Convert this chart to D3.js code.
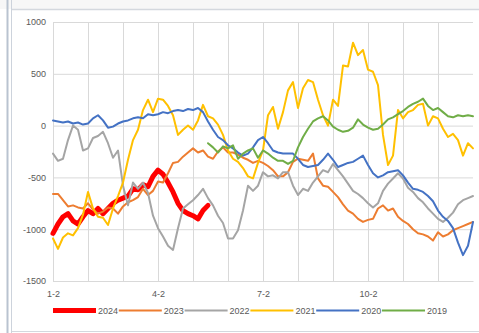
<!DOCTYPE html>
<html><head><meta charset="utf-8">
<script src="https://cdn.jsdelivr.net/npm/d3@7"></script>
<style>
html,body{margin:0;padding:0;background:#fff;}
svg{display:block;font-family:"Liberation Sans",Arial,sans-serif;}
</style></head>
<body><svg id="c" width="479" height="333"></svg>
<script>
// ---- data ----
const months = ["1-2","2-2","3-2","4-2","5-2","6-2","7-2","8-2","9-2","10-2","11-2","12-2"];
const tickLabelMonths = ["1-2","4-2","7-2","10-2"];
const yTicks = [1000,500,0,-500,-1000,-1500];
const seriesNames = ["2024","2023","2022","2021","2020","2019"];
const seriesColors = ["#FF0000","#ED7D31","#A5A5A5","#FFC000","#4472C4","#70AD47"];
const samplesPerMonth = 7;

const s2024 = [-1040,-950,-880,-850,-920,-950,-880,-820,-850,-800,-850,-800,-750,-720,-700,-680,-610,-620,-570,-590,-490,-430,-470,-550,-640,-750,-820,-850,-870,-900,-820,-770];
const s2023 = [-660,-660,-720,-780,-770,-790,-800,-750,-810,-850,-830,-790,-800,-850,-780,-740,-720,-690,-610,-670,-630,-540,-550,-460,-360,-350,-300,-260,-220,-260,-240,-300,-320,-250,-210,-260,-260,-280,-310,-330,-360,-340,-360,-390,-430,-490,-490,-450,-350,-320,-330,-340,-270,-510,-580,-590,-640,-690,-760,-820,-850,-900,-930,-910,-900,-800,-770,-820,-800,-880,-920,-950,-1000,-1040,-1050,-1070,-1110,-1030,-1070,-1050,-1010,-990,-970,-950,-930];
const s2022 = [-270,-340,-320,-140,0,-40,-240,-220,-120,-100,-60,-170,-310,-240,-580,-770,-550,-610,-550,-650,-870,-990,-1070,-1160,-1200,-990,-800,-760,-720,-670,-610,-700,-770,-870,-940,-1090,-1090,-1010,-820,-580,-630,-580,-450,-490,-480,-510,-450,-450,-580,-670,-610,-630,-550,-490,-430,-450,-370,-430,-490,-560,-630,-660,-700,-750,-790,-750,-630,-560,-510,-460,-510,-600,-640,-700,-740,-800,-850,-900,-930,-890,-840,-760,-720,-700,-680];
const s2021 = [-1090,-1190,-1080,-1040,-1060,-990,-860,-640,-800,-880,-890,-960,-800,-680,-550,-330,-140,-40,150,250,130,260,250,190,100,-90,-40,0,-40,50,200,90,70,10,-90,-240,-320,-350,-410,-490,-510,-360,-240,100,180,-30,130,340,420,170,360,440,420,250,100,0,250,190,580,570,800,680,730,540,520,390,-90,-380,-290,150,70,130,150,200,210,0,90,70,-30,-110,-80,-140,-290,-170,-220];
const s2020 = [50,40,30,40,20,30,10,20,70,100,50,-20,-10,20,40,50,70,80,70,110,100,110,130,120,140,150,140,160,150,170,130,40,-40,-110,-140,-190,-220,-260,-290,-270,-210,-140,-110,-170,-240,-260,-270,-270,-270,-320,-380,-400,-390,-380,-330,-270,-330,-400,-380,-360,-350,-320,-290,-380,-460,-500,-480,-450,-440,-430,-480,-550,-610,-620,-640,-680,-730,-820,-880,-920,-990,-1130,-1250,-1160,-930];
const s2019 = [null,null,null,null,null,null,null,null,null,null,null,null,null,null,null,null,null,null,null,null,null,null,null,null,null,null,null,null,null,null,null,
  -170,-210,-260,-200,-220,-190,-320,-270,-240,-220,-310,-240,-270,-310,-340,-340,-370,-340,-210,-110,-30,40,70,90,50,-10,-40,-60,-50,-20,60,10,-20,-40,-30,10,60,80,110,140,180,210,230,260,190,150,170,130,90,80,100,90,100,90];
const seriesData = [s2024,s2023,s2022,s2021,s2020,s2019];

// ---- chart ----
const svg = d3.select("#c");
const W = 479, H = 333;
const L = 53, R = 473, T = 22, B = 281;

// window frame
svg.append("rect").attr("x",0).attr("y",0).attr("width",W).attr("height",9).attr("fill","#f7f7f7");
svg.append("line").attr("x1",12).attr("x2",W).attr("y1",9.5).attr("y2",9.5).attr("stroke","#d4d8de").attr("stroke-width",1.5);
svg.append("line").attr("x1",7.5).attr("x2",7.5).attr("y1",0).attr("y2",H).attr("stroke","#b9c3d0").attr("stroke-width",2);
svg.append("line").attr("x1",11.5).attr("x2",11.5).attr("y1",0).attr("y2",H).attr("stroke","#cdd3dc").attr("stroke-width",1);
svg.append("line").attr("x1",12).attr("x2",W).attr("y1",331.5).attr("y2",331.5).attr("stroke","#d4d8de").attr("stroke-width",1);

const x = d3.scaleLinear().domain([0,12]).range([L,R]);
const y = d3.scaleLinear().domain([-1500,1000]).range([B,T]);

// y axis + horizontal gridlines
const gy = svg.append("g").attr("transform",`translate(${L},0)`)
  .call(d3.axisLeft(y).tickValues(yTicks).tickSizeInner(-(R-L)).tickSizeOuter(0).tickPadding(7)
    .tickFormat(d => String(d)));
gy.select(".domain").remove();
gy.selectAll("line").attr("stroke","#d9d9d9").attr("stroke-width",1);
gy.selectAll("text").attr("fill","#595959").attr("font-size","9px");

// x axis + vertical gridlines
const monthIdx = d3.range(months.length);
const gx = svg.append("g").attr("transform",`translate(0,${B})`)
  .call(d3.axisBottom(x).tickValues(monthIdx).tickSizeInner(-(B-T)).tickSizeOuter(0).tickPadding(10)
    .tickFormat(i => tickLabelMonths.includes(months[i]) ? months[i] : ""));
gx.select(".domain").attr("stroke","#d9d9d9");
gx.selectAll("line").attr("stroke","#d9d9d9").attr("stroke-width",1);
gx.selectAll("text").attr("fill","#595959").attr("font-size","9px");

// lines
const line = d3.line()
  .defined(d => d != null)
  .x((d,i) => x(i / samplesPerMonth))
  .y(d => y(d));

seriesData.forEach((data, k) => {
  svg.append("path")
    .datum(data)
    .attr("fill","none")
    .attr("stroke",seriesColors[k])
    .attr("stroke-width", k === 0 ? 5 : 2)
    .attr("stroke-linejoin","round")
    .attr("stroke-linecap","round")
    .attr("d", line);
});

// legend
const legY = 310.5;
const lg = svg.append("g");
seriesNames.forEach((name, k) => {
  const x0 = 53 + k * 65.8;
  lg.append("line").attr("x1",x0).attr("x2",x0+43).attr("y1",legY).attr("y2",legY)
    .attr("stroke",seriesColors[k]).attr("stroke-width", k === 0 ? 5 : 2);
  lg.append("text").attr("x",x0+45).attr("y",legY+3.3).attr("font-size","9px").attr("fill","#595959").text(name);
});
</script>
</body></html>
